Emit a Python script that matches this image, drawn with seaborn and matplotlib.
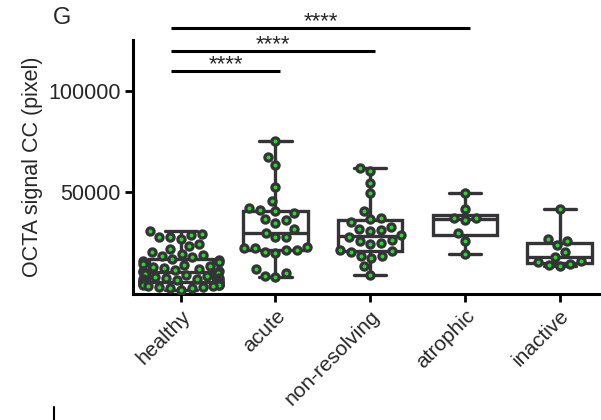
import pandas as pd
import matplotlib
matplotlib.use('Agg')
import matplotlib.pyplot as plt
import seaborn as sns
from matplotlib.lines import Line2D

# values (pixel units of OCTA signal)
groups = ['healthy', 'acute', 'non-resolving', 'atrophic', 'inactive']

healthy = [31000, 29700, 29000, 27800, 27800, 27000, 24500, 23400, 22000, 20500,
           19500, 19000, 18500, 18000,
           17000, 16500, 16000, 15500, 15000, 14500, 14000, 13500, 13000, 12500,
           12000, 11500, 11200, 11000,
           10500, 10000, 9500, 9000, 8500, 8000, 7800, 7500, 7200, 7000,
           6800, 6500, 6000, 5800,
           5500, 5200, 5000, 4800, 4600, 4400, 4200, 4000, 3800, 3500,
           3200, 3000, 2800, 2200]
acute = [75500, 67300, 63400, 52600, 45600, 42100, 39700, 40700, 41200,
         36300, 34800, 36700, 30200, 31900, 27900, 28100,
         22500, 21500, 20500, 20000, 21500, 22500, 23000,
         10100, 8200, 9000, 12200]
non_resolving = [62000, 60400, 54700, 49500, 40800, 36700, 37600, 35400, 33200,
                 31400, 31000, 31900, 28900, 27800, 26600, 24800, 25300, 26100,
                 21600, 20700, 18500, 21200, 17500, 18800, 13600, 9300]
atrophic = [49800, 42000, 37600, 36300, 37600, 30200, 26100, 19900]
inactive = [41700, 27000, 26100, 24000, 20700, 18300, 16300, 15500, 14700, 14200, 13600]

# significance brackets
sig_pairs = [('healthy', 'acute'), ('healthy', 'non-resolving'), ('healthy', 'atrophic')]
sig_heights = [109800, 119600, 131000]
sig_labels = ['****', '****', '****']

values = [healthy, acute, non_resolving, atrophic, inactive]
df = pd.DataFrame({
    'group': [g for g, v in zip(groups, values) for _ in v],
    'signal': [x for v in values for x in v],
})

sns.set_style('ticks')
plt.rcParams['font.family'] = ['Liberation Sans', 'DejaVu Sans']

dark = '#333338'
fig = plt.figure(figsize=(6.01, 4.2), dpi=100)
ax = fig.add_axes([0.222, 0.30, 0.788, 0.605])

sns.boxplot(data=df, x='group', y='signal', order=groups, whis=(0, 100),
            color='white', linecolor=dark, linewidth=2.4, width=0.68,
            showfliers=False, ax=ax)
sns.swarmplot(data=df, x='group', y='signal', order=groups, size=5.2,
              color='#22dd22', edgecolor=dark, linewidth=2.3, ax=ax)

ax.set_ylim(0, 125000)
ax.set_xlim(-0.5, 4.5)
ax.set_yticks([50000, 100000])
ax.set_yticklabels(['50000', '100000'], fontsize=15.5)
ax.set_xticks(range(len(groups)))
ax.set_xticklabels(groups, rotation=45, ha='right', rotation_mode='anchor', fontsize=15)
ax.set_xlabel('')
ax.set_ylabel('OCTA signal CC (pixel)', fontsize=15.5, labelpad=4)
ax.tick_params(axis='both', width=2, length=6, color='black', pad=3)
for s in ['left', 'bottom']:
    ax.spines[s].set_linewidth(2.2)
    ax.spines[s].set_color('black')
sns.despine(ax=ax)

for (a, b), h, lab in zip(sig_pairs, sig_heights, sig_labels):
    x1 = groups.index(a) - 0.1
    x2 = groups.index(b) + 0.05
    ax.plot([x1, x2], [h, h], color='black', lw=2.2, clip_on=False,
            solid_capstyle='butt')
    # asterisks sit high in the glyph box, so anchor on the baseline
    ax.text((x1 + x2) / 2, h + 300, lab, ha='center', va='baseline',
            fontsize=16, clip_on=False)

fig.text(0.103, 0.957, 'G', fontsize=17, ha='center', va='center')
fig.add_artist(Line2D([0.09, 0.09], [0.0, 0.03], color='black', lw=1.5))

fig.savefig('out.png', dpi=100)
